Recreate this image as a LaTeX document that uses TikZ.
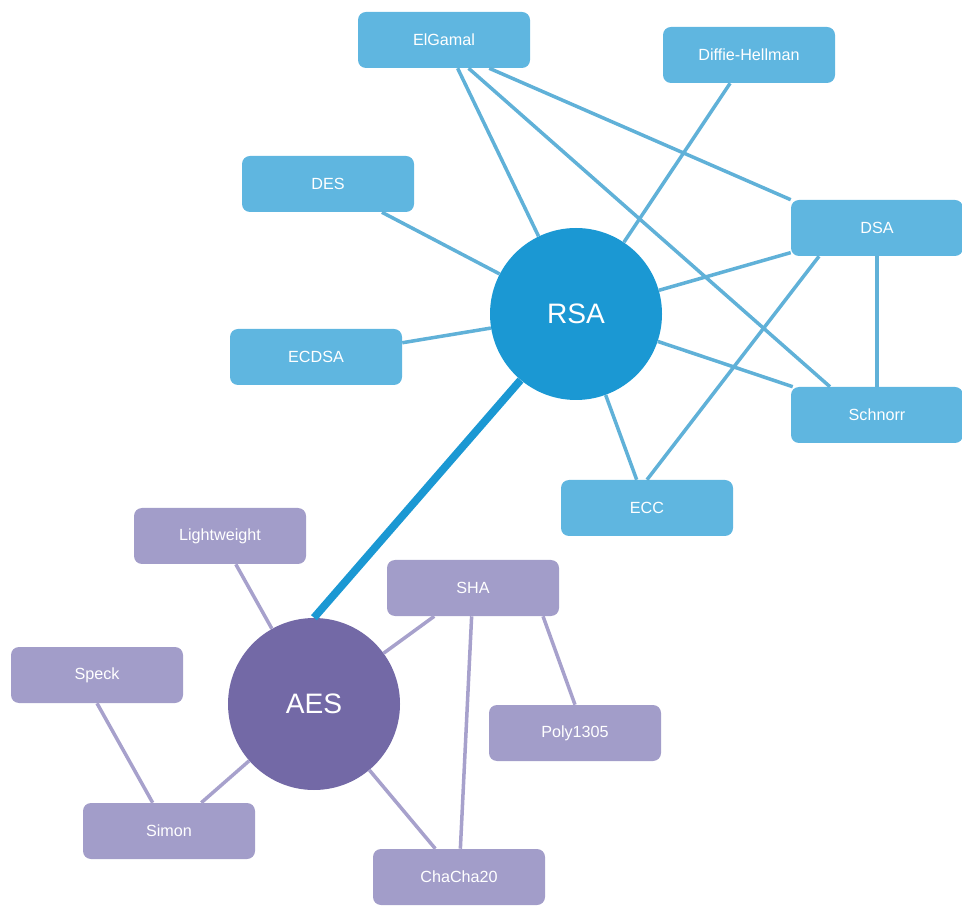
\documentclass[tikz,border=0pt]{standalone}
\usepackage{fontspec}
\setmainfont{Liberation Sans}
\usepackage{tikz}
\usetikzlibrary{positioning}

\definecolor{rsablue}{RGB}{27,152,211}
\definecolor{boxblue}{RGB}{95,182,224}
\definecolor{lineblue}{RGB}{96,177,216}
\definecolor{aespurple}{RGB}{115,105,166}
\definecolor{boxpurple}{RGB}{162,157,201}
\definecolor{linepurple}{RGB}{167,161,204}

\begin{document}
\begin{tikzpicture}[
	bluebox/.style={rectangle, rounded corners=0.2cm, fill=boxblue, text=white, minimum width=4.3cm, minimum height=1.4cm, font=\fontsize{11.5}{13}\selectfont},
	purplebox/.style={bluebox, fill=boxpurple},
	hub/.style={circle, minimum size=4.3cm, inner sep=0pt, text=white, font=\fontsize{20}{24}\selectfont},
	blueline/.style={draw=lineblue, line width=2.5pt},
	purpleline/.style={draw=linepurple, line width=2.5pt}
]
	\useasboundingbox (0, 0) rectangle (24.05, 22.625);

	\node[hub, fill=rsablue] (rsa) at (14.4, 14.775) {RSA};
	\node[hub, fill=aespurple] (aes) at (7.85, 5.025) {AES};

	\node[bluebox] (elgamal) at (11.1, 21.625) {ElGamal};
	\node[bluebox] (dh) at (18.725, 21.25) {Diffie-Hellman};
	\node[bluebox] (des) at (8.2, 18.025) {DES};
	\node[bluebox] (dsa) at (21.925, 16.925) {DSA};
	\node[bluebox] (schnorr) at (21.925, 12.25) {Schnorr};
	\node[bluebox] (ecc) at (16.175, 9.925) {ECC};
	\node[bluebox] (ecdsa) at (7.9, 13.7) {ECDSA};

	\node[purplebox] (light) at (5.5, 9.225) {Lightweight};
	\node[purplebox] (sha) at (11.825, 7.925) {SHA};
	\node[purplebox] (speck) at (2.425, 5.75) {Speck};
	\node[purplebox] (simon) at (4.225, 1.85) {Simon};
	\node[purplebox] (poly) at (14.375, 4.3) {Poly1305};
	\node[purplebox] (chacha) at (11.475, 0.7) {ChaCha20};

	\draw[blueline] (elgamal) -- (rsa);
	\draw[blueline] (elgamal.-49) -- (schnorr.149);
	\draw[blueline] (elgamal.-32.5) -- (dsa.north west);
	\draw[blueline] (dh) -- (rsa);
	\draw[blueline] (des) -- (rsa);
	\draw[blueline] (ecdsa) -- (rsa);
	\draw[blueline] (rsa) -- (dsa);
	\draw[blueline] (rsa) -- (schnorr);
	\draw[blueline] (rsa) -- (ecc);
	\draw[blueline] (dsa.206) -- (ecc.north);
	\draw[blueline] (dsa) -- (schnorr);
	\draw[draw=rsablue, line width=5.5pt] (rsa.230) -- (aes.north);

	\draw[purpleline] (light) -- (aes);
	\draw[purpleline] (aes) -- (sha);
	\draw[purpleline] (sha.-22) -- (poly.north);
	\draw[purpleline] (sha) -- (chacha);
	\draw[purpleline] (aes) -- (chacha);
	\draw[purpleline] (aes) -- (simon);
	\draw[purpleline] (speck.south) -- (simon.120);

\end{tikzpicture}
\end{document}
